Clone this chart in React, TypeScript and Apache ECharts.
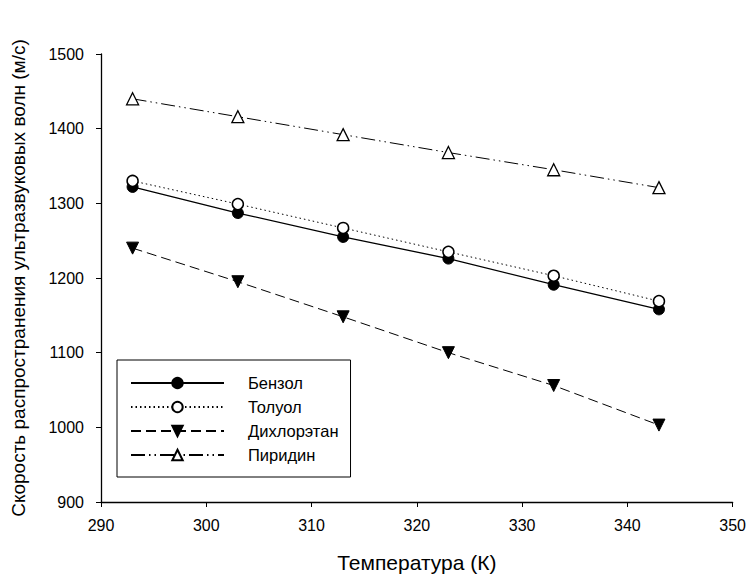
import React, { useEffect, useRef } from "react";
import * as echarts from "echarts";

const temperatures = [293, 303, 313, 323, 333, 343];
const benzene = [1322, 1287, 1255, 1226, 1191, 1158];
const toluene = [1330, 1299, 1267, 1235, 1203, 1169];
const dichloroethane = [1240, 1195, 1148, 1100, 1056, 1003];
const pyridine = [1440, 1416, 1392, 1368, 1345, 1321];
const seriesNames = ["Бензол", "Толуол", "Дихлорэтан", "Пиридин"];

const FONT = "Liberation Sans, Arial, sans-serif";

function pairs(vals: number[]) {
  return temperatures.map((t, i) => [t, vals[i]]);
}

export default function App() {
  const ref = useRef<HTMLDivElement>(null);
  useEffect(() => {
    if (!ref.current) return;
    const chart = echarts.init(ref.current, null, { renderer: "svg" });
    const common = {
      type: "line",
      symbolSize: 11,
      z: 3,
    };
    chart.setOption({
      animation: false,
      backgroundColor: "#ffffff",
      grid: { left: 101, right: 14, top: 54, bottom: 73 },
      xAxis: {
        type: "value",
        min: 290,
        max: 350,
        interval: 10,
        name: "Температура (К)",
        nameLocation: "middle",
        nameGap: 50,
        nameTextStyle: { fontFamily: FONT, fontSize: 21, color: "#000" },
        axisLine: { onZero: false, lineStyle: { color: "#000", width: 1.3 } },
        axisTick: { show: true, length: 5, lineStyle: { color: "#000" } },
        axisLabel: { fontFamily: FONT, fontSize: 16, color: "#000", margin: 15, formatter: (v: number) => String(v) },
        splitLine: { show: false },
      },
      yAxis: {
        type: "value",
        min: 900,
        max: 1500,
        interval: 100,
        name: "Скорость распространения ультразвуковых волн (м/с)",
        nameLocation: "middle",
        nameGap: 73,
        nameTextStyle: { fontFamily: FONT, fontSize: 19, color: "#000" },
        axisLine: { show: true, onZero: false, lineStyle: { color: "#000", width: 1.3 } },
        axisTick: { show: true, length: 5, lineStyle: { color: "#000" } },
        axisLabel: { fontFamily: FONT, fontSize: 16, color: "#000", margin: 17, formatter: (v: number) => String(v) },
        splitLine: { show: false },
      },
      legend: {
        orient: "vertical",
        left: 117,
        top: 360,
        data: seriesNames,
        backgroundColor: "#fff",
        borderColor: "#000",
        borderWidth: 1,
        padding: [14, 12, 13, 13],
        itemWidth: 93,
        itemHeight: 13,
        itemGap: 6,
        textStyle: { fontFamily: FONT, fontSize: 16.5, lineHeight: 18, color: "#000", padding: [0, 0, 0, 19] },
      },
      series: [
        {
          ...common,
          name: seriesNames[0],
          data: pairs(benzene),
          symbol: "circle",
          lineStyle: { color: "#000", width: 1.3, type: "solid" },
          itemStyle: { color: "#000", borderColor: "#000", borderWidth: 1 },
        },
        {
          ...common,
          name: seriesNames[1],
          data: pairs(toluene),
          symbol: "circle",
          lineStyle: { color: "#000", width: 1, type: [1.5, 3] },
          itemStyle: { color: "#fff", borderColor: "#000", borderWidth: 1.5 },
        },
        {
          ...common,
          name: seriesNames[2],
          data: pairs(dichloroethane),
          symbol: "triangle",
          symbolRotate: 180,
          symbolSize: 12,
          lineStyle: { color: "#000", width: 1, type: [10, 5] },
          itemStyle: { color: "#000", borderColor: "#000", borderWidth: 1 },
        },
        {
          ...common,
          name: seriesNames[3],
          data: pairs(pyridine),
          symbol: "triangle",
          symbolSize: 12,
          lineStyle: { color: "#000", width: 1, type: [14, 4, 1.5, 4, 1.5, 4] },
          itemStyle: { color: "#fff", borderColor: "#000", borderWidth: 1.3 },
        },
      ],
    });
    return () => chart.dispose();
  }, []);
  return <div ref={ref} style={{ width: 749, height: 578, position: "absolute", left: 0, top: 0 }} />;
}
